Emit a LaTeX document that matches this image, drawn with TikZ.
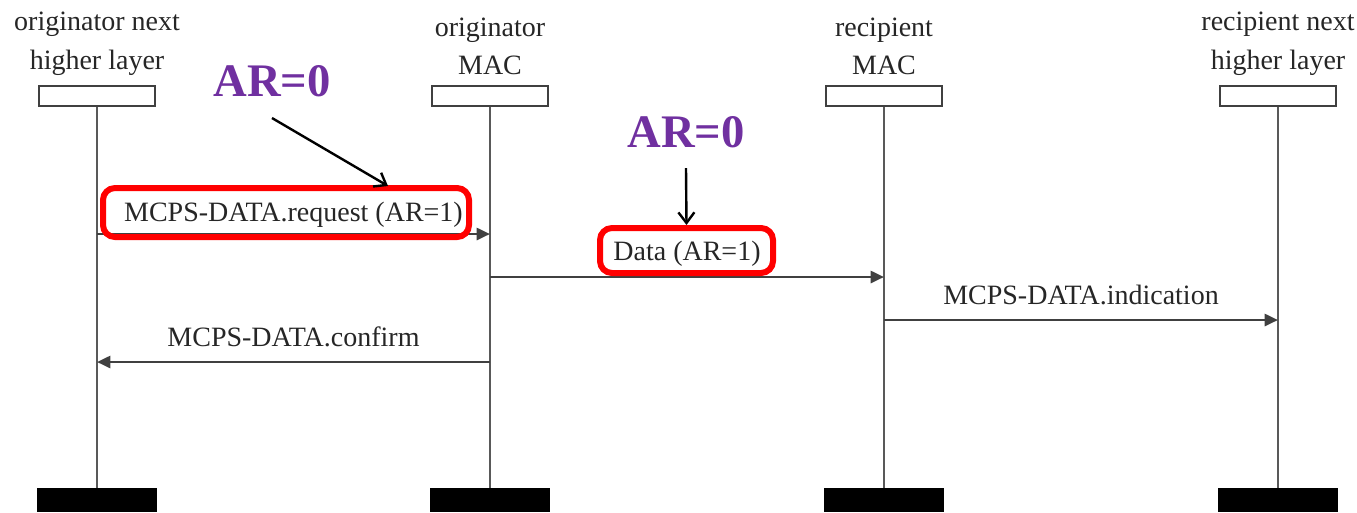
\documentclass[tikz,border=0pt]{standalone}
\usepackage{fontspec}
\setmainfont{Liberation Serif}
\usetikzlibrary{arrows.meta,positioning}
\definecolor{arpurple}{HTML}{7030A0}
\definecolor{markred}{HTML}{FF0000}
\tikzset{
  layerbox/.style={draw=black!75, fill=white, line width=1.8pt, minimum width=87pt, minimum height=15pt, inner sep=0pt},
  layerfoot/.style={fill=black, minimum width=90pt, minimum height=18pt, inner sep=0pt},
  layername/.style={align=center, text=black!85, font=\fontsize{21}{29}\selectfont, inner sep=2pt},
  lifeline/.style={draw=black!65, line width=1.8pt},
  msg/.style={draw=black!75, line width=2pt, -{Triangle[length=10pt,width=9pt]}},
  msglabel/.style={text=black!85, font=\fontsize{21}{25}\selectfont, inner sep=3pt, above=7pt},
  armark/.style={draw=markred, line width=4.5pt, rounded corners=9pt, inner sep=0pt},
  arnote/.style={text=arpurple, font=\fontsize{35}{40}\selectfont\bfseries, inner sep=0pt},
  callout/.style={draw=black, line width=1.8pt, -{Straight Barb[length=8pt,width=12pt]}}
}

\begin{document}
\begin{tikzpicture}[x=0.75pt, y=-0.75pt]
  \useasboundingbox (0,0) rectangle (1357,512);
  % the four layers
  \node[layerbox] (boxONL) at (97,96) {};
  \node[layerbox] (boxOM) at (490,96) {};
  \node[layerbox] (boxRM) at (884,96) {};
  \node[layerbox] (boxRNL) at (1278,96) {};
  \node[layerfoot] (footONL) at (97,500) {};
  \node[layerfoot] (footOM) at (490,500) {};
  \node[layerfoot] (footRM) at (884,500) {};
  \node[layerfoot] (footRNL) at (1278,500) {};
  \node[layername, above=5pt of boxONL] (nameONL) {originator next\\higher layer};
  \node[layername, above=5pt of boxOM] (nameOM) {originator\\MAC};
  \node[layername, above=5pt of boxRM] (nameRM) {recipient\\MAC};
  \node[layername, above=5pt of boxRNL] (nameRNL) {recipient next\\higher layer};
  \draw[lifeline] (boxONL) -- (footONL);
  \draw[lifeline] (boxOM) -- (footOM);
  \draw[lifeline] (boxRM) -- (footRM);
  \draw[lifeline] (boxRNL) -- (footRNL);

  % primitives
  \coordinate (yReq) at (0,234);
  \coordinate (yData) at (0,277);
  \coordinate (yInd) at (0,320);
  \coordinate (yConf) at (0,362);
  \draw[msg] (boxONL |- yReq) -- node[msglabel, above=1pt] {MCPS-DATA.request (AR=1)} (boxOM |- yReq);
  \draw[msg] (boxOM |- yData) -- node[msglabel, above=4pt] {Data (AR=1)} (boxRM |- yData);
  \draw[msg] (boxRM |- yInd) -- node[msglabel] {MCPS-DATA.indication} (boxRNL |- yInd);
  \draw[msg] (boxOM |- yConf) -- node[msglabel] {MCPS-DATA.confirm} (boxONL |- yConf);

  % AR marks
  \node[armark, minimum width=274.5pt, minimum height=36.75pt] (markReq) at (286,212.5) {};
  \node[armark, minimum width=129.75pt, minimum height=33.75pt] (markData) at (686.5,250.5) {};
  \node[arnote] (noteReq) at (272,81) {AR=0};
  \node[arnote] (noteData) at (686,132) {AR=0};
  \coordinate (tipReq) at (388,186);
  \draw[callout] ([yshift=-15.75pt]noteReq.south) -- (tipReq);
  \draw[callout] ([yshift=-15pt]noteData.south) -- (markData.north);
\end{tikzpicture}
\end{document}
